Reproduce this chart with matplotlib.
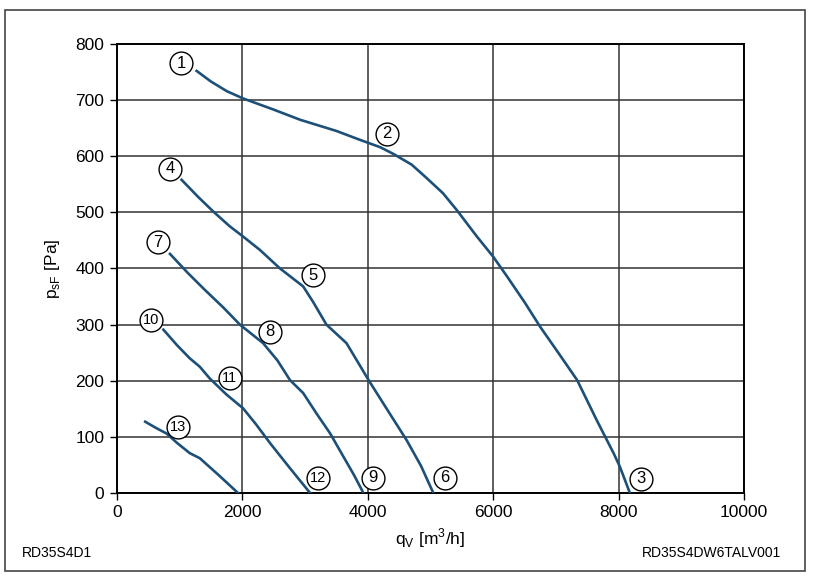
import matplotlib
matplotlib.use("Agg")
import matplotlib.pyplot as plt
from matplotlib.patches import Rectangle

plt.rcParams['font.family'] = ['Liberation Sans', 'DejaVu Sans']

# curves: flow q [m3/h] and pressure p [Pa]
q_a = [1270, 1500, 1750, 2010, 2500, 2920, 3500, 3880, 4200, 4410, 4700, 4940, 5200, 5420, 5740,
       6000, 6220, 6500, 6750, 7050, 7340, 7650, 7920, 8020, 8180]
p_a = [752, 733, 716, 703, 683, 665, 645, 629, 616, 604, 585, 561, 534, 504, 457,
       421, 386, 340, 296, 248, 201, 130, 71, 47, 0]

q_b = [1030, 1290, 1540, 1800, 2010, 2280, 2600, 2970, 3130, 3340, 3660, 4030, 4330, 4620, 4850, 5045]
p_b = [558, 528, 501, 475, 457, 433, 400, 368, 340, 300, 267, 198, 145, 94, 48, 0]

q_c = [845, 1130, 1400, 1700, 1960, 2330, 2560, 2760, 2970, 3180, 3400, 3610, 3780, 3930]
p_c = [426, 392, 362, 330, 300, 267, 236, 201, 178, 142, 106, 65, 32, 0]

q_d = [740, 960, 1160, 1320, 1480, 1750, 2010, 2220, 2440, 2760, 3080]
p_d = [291, 263, 240, 225, 204, 175, 151, 122, 89, 44, 0]

q_e = [450, 620, 790, 960, 1160, 1320, 1620, 1930]
p_e = [127, 116, 106, 89, 71, 62, 32, 0]

# circled point numbers and where they sit
marks = ['1', '2', '3', '4', '5', '6', '7', '8', '9', '10', '11', '12', '13']
mark_q = [1020, 4300, 8360, 845, 3130, 5230, 655, 2440, 4080, 540, 1800, 3210, 975]
mark_p = [766, 640, 25, 578, 388, 27, 447, 287, 27, 308, 205, 27, 118]

fig = plt.figure(figsize=(8.13, 5.81), dpi=100)
ax = fig.add_axes([0.1439, 0.1515, 0.7712, 0.7728])

line_col = '#1d5078'
for q, p in [(q_a, p_a), (q_b, p_b), (q_c, p_c), (q_d, p_d), (q_e, p_e)]:
    ax.plot(q, p, color=line_col, lw=1.9, zorder=3, solid_joinstyle='round')

ax.scatter(mark_q, mark_p, s=270, facecolor='white', edgecolor='black', linewidth=1.0, zorder=4)
for m, q, p in zip(marks, mark_q, mark_p):
    fs = 12 if len(m) == 1 else 10.5
    ax.text(q, p, m, ha='center', va='center', fontsize=fs, zorder=5)

ax.set_xlim(0, 10000)
ax.set_ylim(0, 800)
ax.set_xticks(range(0, 10001, 2000))
ax.set_yticks(range(0, 801, 100))
ax.grid(True, color='#333333', lw=1.1)
ax.set_axisbelow(True)
for s in ax.spines.values():
    s.set_color('black')
    s.set_linewidth(1.4)
ax.tick_params(labelsize=12.5, length=5, width=1, colors='black', pad=4)
ax.set_xlabel('q$_\\mathregular{V}$ [m$^\\mathregular{3}$/h]', fontsize=12.5, labelpad=4)
ax.set_ylabel('p$_\\mathregular{sF}$ [Pa]', fontsize=12.5, labelpad=10)

fig.text(22 / 813, 1 - 553 / 581, 'RD35S4D1', fontsize=10, va='center', ha='left')
fig.text(781 / 813, 1 - 553 / 581, 'RD35S4DW6TALV001', fontsize=10, va='center', ha='right')

fig.patches.append(Rectangle((5 / 813, 1 - 571 / 581), 800 / 813, 561 / 581,
                             transform=fig.transFigure, fill=False, edgecolor='#444444', lw=1.2))

fig.savefig('out.png', dpi=100)
